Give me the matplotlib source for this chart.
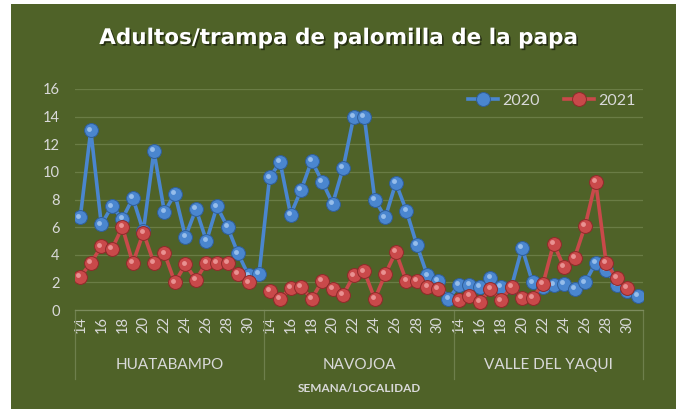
import numpy as np
import matplotlib
matplotlib.use('Agg')
import matplotlib.pyplot as plt
import matplotlib.transforms as mtransforms
import matplotlib.patheffects as pe
from matplotlib.patches import Rectangle

nan = np.nan

# semanas por localidad
weeks = list(range(14, 32))
localidades = ['HUATABAMPO', 'NAVOJOA', 'VALLE DEL YAQUI']

# adultos/trampa
huata_2020 = [6.7, 13.0, 6.2, 7.5, 6.6, 8.1, 5.7, 11.5, 7.1, 8.4, 5.3, 7.3, 5.0, 7.5, 6.0, 4.1, 2.5, 2.6]
huata_2021 = [2.4, 3.4, 4.6, 4.4, 6.0, 3.4, 5.6, 3.4, 4.1, 2.0, 3.3, 2.2, 3.4, 3.4, 3.4, 2.6, 2.0, nan]
navo_2020 = [9.6, 10.7, 6.9, 8.7, 10.8, 9.3, 7.7, 10.3, 14.0, 14.0, 8.0, 6.7, 9.2, 7.2, 4.7, 2.5, 2.1, 0.8]
navo_2021 = [1.4, 0.8, 1.6, 1.7, 0.8, 2.1, 1.5, 1.1, 2.5, 2.8, 0.8, 2.6, 4.2, 2.1, 2.1, 1.7, 1.5, nan]
yaqui_2020 = [1.8, 1.8, 1.7, 2.3, 1.7, 1.7, 4.5, 2.0, 1.7, 1.8, 1.9, 1.5, 2.0, 3.4, 2.9, 1.8, 1.4, 1.0]
yaqui_2021 = [0.7, 1.0, 0.6, 1.5, 0.7, 1.7, 0.9, 0.9, 1.9, 4.8, 3.1, 3.8, 6.1, 9.3, 3.4, 2.3, 1.6, nan]

BG = '#4F6228'
GRID = '#6A7C45'
TXT = '#D9D9D9'
BLUE = '#4A86CF'
RED = '#C9494A'

FONT = ['Lato', 'DejaVu Sans']
plt.rcParams['font.family'] = FONT

s2020 = np.concatenate([huata_2020, navo_2020, yaqui_2020])
s2021 = np.concatenate([huata_2021, navo_2021, yaqui_2021])
x = np.arange(len(s2020))
n = len(weeks)

fig = plt.figure(figsize=(6.76, 4.09), dpi=100)
fig.patch.set_facecolor('white')
fig.patches.append(Rectangle((11 / 676, 0), 665 / 676, 405 / 409,
                             transform=fig.transFigure, facecolor=BG,
                             edgecolor='none', zorder=-10))

ax = fig.add_axes([75 / 676, 1 - 310 / 409, 568 / 676, 221 / 409])
ax.set_zorder(2)
ax.set_facecolor('none')

shift = mtransforms.ScaledTranslation(-1.3 / 72, 1.3 / 72, fig.dpi_scale_trans)
for vals, col, dark, light, lab, z in [(s2020, BLUE, '#2F5E99', '#A9CBF2', '2020', 3),
                                       (s2021, RED, '#8E2A2A', '#F2A4A4', '2021', 5)]:
    ax.plot(x, vals, color=col, lw=2.6, marker='o', ms=10, mfc=col, mec=dark,
            mew=0.7, zorder=z, label=lab)
    ax.plot(x, vals, ls='none', marker='o', ms=3.5, mfc=light, mec='none',
            alpha=0.8, zorder=z + 0.5, transform=ax.transData + shift)

ax.set_xlim(-0.5, len(x) - 0.5)
ax.set_ylim(0, 16)
ax.set_yticks(range(0, 17, 2))
ax.grid(axis='y', color=GRID, lw=0.9)
ax.set_axisbelow(True)
for s in ['top', 'right', 'left']:
    ax.spines[s].set_visible(False)
ax.spines['bottom'].set_color('#7D8C5E')
ax.spines['bottom'].set_linewidth(0.9)

pos = [g * n + i for g in range(len(localidades)) for i, w in enumerate(weeks) if w % 2 == 0]
labs = [str(w) for g in range(len(localidades)) for w in weeks if w % 2 == 0]
ax.set_xticks(pos)
ax.set_xticklabels(labs, rotation=90)
ax.tick_params(axis='x', length=0, pad=4, colors=TXT, labelsize=10.5)
ax.tick_params(axis='y', length=0, pad=11, colors=TXT, labelsize=10.5)

trans = mtransforms.blended_transform_factory(ax.transData, ax.transAxes)
for g in range(len(localidades) + 1):
    b = g * n - 0.5
    ax.plot([b, b], [0, -0.31], transform=trans, color='#6E7F4C', lw=0.9, clip_on=False)
for g, name in enumerate(localidades):
    ax.text(g * n + (n - 1) / 2, -0.25, name, transform=trans, ha='center',
            va='center', color=TXT, fontsize=11)

ax.text(0.5, -0.355, 'SEMANA/LOCALIDAD', transform=ax.transAxes, ha='center',
        va='center', color=TXT, fontsize=8.5, fontweight='bold')

fig.text(0.5, 1 - 38 / 409, 'Adultos/trampa de palomilla de la papa', ha='center',
         va='center', color='white', fontsize=15.5, fontweight='bold',
         family='DejaVu Sans',
         path_effects=[pe.withSimplePatchShadow(offset=(1.2, -1.2), shadow_rgbFace='black', alpha=0.5)])

leg = ax.legend(loc='center right', bbox_to_anchor=(1.012, 0.946), ncol=2, frameon=False,
                fontsize=11.5, handlelength=1.9, columnspacing=1.5, handletextpad=0.25,
                labelcolor=TXT)

fig.savefig('out.png', dpi=100)
